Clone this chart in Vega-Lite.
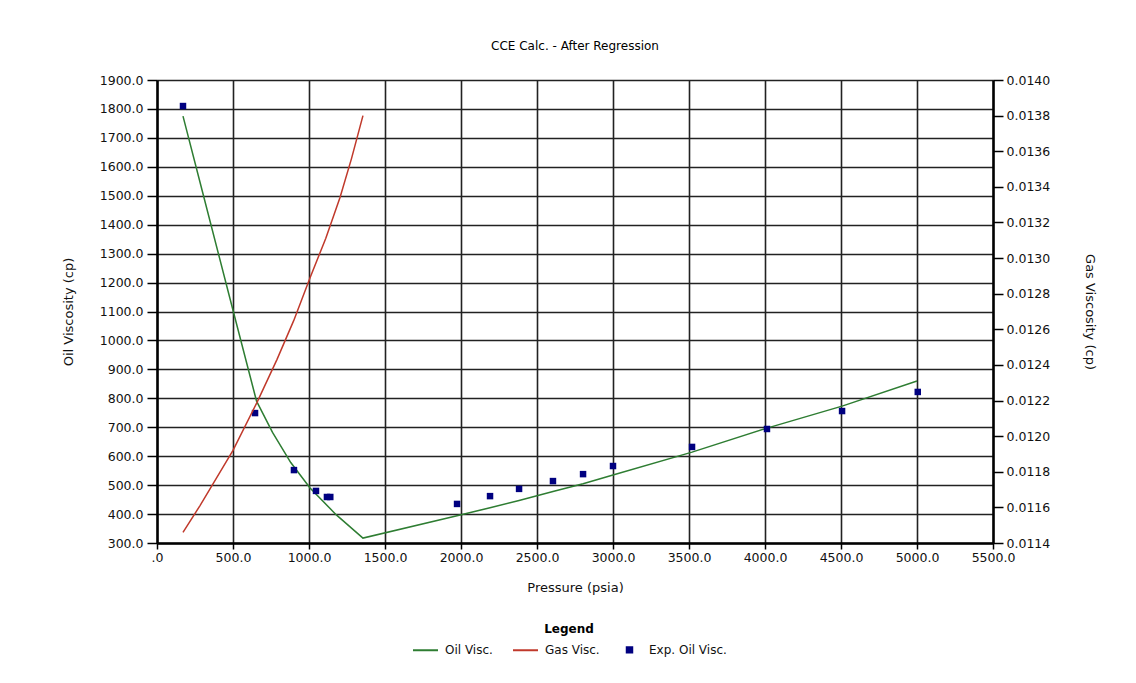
{
  "$schema": "https://vega.github.io/schema/vega-lite/v6.json",
  "width": 836,
  "height": 463,
  "autosize": {"type": "none"},
  "padding": {"left": 157, "top": 80, "right": 143, "bottom": 140},
  "background": "white",
  "title": {"text": "CCE Calc. - After Regression", "fontSize": 12, "font": "DejaVu Sans", "fontWeight": "normal", "color": "#000", "offset": 21, "anchor": "middle"},
  "data": {"values": [
    {"s": "Oil Visc.", "p": 171, "v": 1775},
    {"s": "Oil Visc.", "p": 300, "v": 1512},
    {"s": "Oil Visc.", "p": 480, "v": 1145},
    {"s": "Oil Visc.", "p": 655, "v": 790},
    {"s": "Oil Visc.", "p": 760, "v": 682},
    {"s": "Oil Visc.", "p": 880, "v": 578},
    {"s": "Oil Visc.", "p": 1007, "v": 490},
    {"s": "Oil Visc.", "p": 1180, "v": 397},
    {"s": "Oil Visc.", "p": 1355, "v": 317},
    {"s": "Oil Visc.", "p": 1974, "v": 394},
    {"s": "Oil Visc.", "p": 2191, "v": 422},
    {"s": "Oil Visc.", "p": 2382, "v": 447},
    {"s": "Oil Visc.", "p": 2605, "v": 478},
    {"s": "Oil Visc.", "p": 2803, "v": 505},
    {"s": "Oil Visc.", "p": 3000, "v": 535},
    {"s": "Oil Visc.", "p": 3520, "v": 614},
    {"s": "Oil Visc.", "p": 4013, "v": 697},
    {"s": "Oil Visc.", "p": 4507, "v": 773},
    {"s": "Oil Visc.", "p": 5000, "v": 860},
    {"s": "Gas Visc.", "p": 171, "g": 0.01146},
    {"s": "Gas Visc.", "p": 283, "g": 0.01161},
    {"s": "Gas Visc.", "p": 500, "g": 0.01192},
    {"s": "Gas Visc.", "p": 658, "g": 0.01219},
    {"s": "Gas Visc.", "p": 789, "g": 0.01243},
    {"s": "Gas Visc.", "p": 900, "g": 0.01265},
    {"s": "Gas Visc.", "p": 1007, "g": 0.01289},
    {"s": "Gas Visc.", "p": 1110, "g": 0.01311},
    {"s": "Gas Visc.", "p": 1204, "g": 0.01334},
    {"s": "Gas Visc.", "p": 1280, "g": 0.01356},
    {"s": "Gas Visc.", "p": 1355, "g": 0.01380},
    {"s": "Exp. Oil Visc.", "p": 171, "v": 1810},
    {"s": "Exp. Oil Visc.", "p": 645, "v": 749},
    {"s": "Exp. Oil Visc.", "p": 901, "v": 552},
    {"s": "Exp. Oil Visc.", "p": 1046, "v": 480},
    {"s": "Exp. Oil Visc.", "p": 1118, "v": 459},
    {"s": "Exp. Oil Visc.", "p": 1140, "v": 459},
    {"s": "Exp. Oil Visc.", "p": 1974, "v": 435},
    {"s": "Exp. Oil Visc.", "p": 2191, "v": 462},
    {"s": "Exp. Oil Visc.", "p": 2382, "v": 487},
    {"s": "Exp. Oil Visc.", "p": 2605, "v": 514},
    {"s": "Exp. Oil Visc.", "p": 2803, "v": 538},
    {"s": "Exp. Oil Visc.", "p": 3000, "v": 566},
    {"s": "Exp. Oil Visc.", "p": 3520, "v": 632},
    {"s": "Exp. Oil Visc.", "p": 4013, "v": 694},
    {"s": "Exp. Oil Visc.", "p": 4507, "v": 756},
    {"s": "Exp. Oil Visc.", "p": 5005, "v": 822}
  ]},
  "encoding": {
    "x": {
      "field": "p", "type": "quantitative",
      "scale": {"domain": [0, 5500], "nice": false, "zero": false},
      "axis": {
        "title": "Pressure (psia)",
        "values": [0, 500, 1000, 1500, 2000, 2500, 3000, 3500, 4000, 4500, 5000, 5500],
        "labelExpr": "datum.value === 0 ? '.0' : format(datum.value, '.1f')",
        "labelFlush": false, "labelOverlap": false,
        "tickSize": 6, "labelPadding": 2, "titlePadding": 18, "grid": true
      }
    },
    "color": {
      "field": "s", "type": "nominal",
      "scale": {"domain": ["Oil Visc.", "Gas Visc.", "Exp. Oil Visc."], "range": ["#2e7d32", "#c0392b", "#000080"]},
      "legend": {
        "title": "Legend",
        "orient": "none", "legendX": 255, "legendY": 544,
        "direction": "horizontal",
        "titleAnchor": "middle", "titleFontWeight": "bold", "titleFontSize": 12, "titleFont": "DejaVu Sans", "titleColor": "#000",
        "labelFont": "DejaVu Sans", "labelFontSize": 12, "labelColor": "#111",
        "symbolSize": 625, "symbolStrokeWidth": 2, "labelOffset": 6, "columnPadding": 16, "titlePadding": 0,
        "encode": {"symbols": {"update": {
          "shape": {"signal": "datum.value === 'Exp. Oil Visc.' ? 'square' : 'stroke'"},
          "size": {"signal": "datum.value === 'Exp. Oil Visc.' ? 30 : 625"},
          "fill": {"signal": "datum.value === 'Exp. Oil Visc.' ? '#000080' : 'transparent'"},
          "stroke": {"signal": "datum.value === 'Oil Visc.' ? '#1f6b1f' : datum.value === 'Gas Visc.' ? '#b22222' : '#000080'"},
          "strokeWidth": {"value": 2}
        }}}
      }
    }
  },
  "layer": [
    {
      "encoding": {
        "y": {
          "field": "v", "type": "quantitative",
          "scale": {"domain": [300, 1900], "nice": false, "zero": false},
          "axis": {
            "title": "Oil Viscosity (cp)",
            "values": [300, 400, 500, 600, 700, 800, 900, 1000, 1100, 1200, 1300, 1400, 1500, 1600, 1700, 1800, 1900],
            "format": ".1f", "tickSize": 10, "labelPadding": 4, "titlePadding": 24, "grid": true, "labelOverlap": false
          }
        }
      },
      "layer": [
        {
          "transform": [{"filter": "datum.s === 'Oil Visc.'"}],
          "mark": {"type": "line", "strokeWidth": 1.5}
        },
        {
          "transform": [{"filter": "datum.s === 'Exp. Oil Visc.'"}],
          "mark": {"type": "point", "shape": "square", "filled": true, "size": 42, "opacity": 1}
        }
      ]
    },
    {
      "transform": [{"filter": "datum.s === 'Gas Visc.'"}],
      "mark": {"type": "line", "strokeWidth": 1.5},
      "encoding": {
        "y": {
          "field": "g", "type": "quantitative",
          "scale": {"domain": [0.0114, 0.014], "nice": false, "zero": false},
          "axis": {
            "orient": "right",
            "title": "Gas Viscosity (cp)",
            "values": [0.0114, 0.0116, 0.0118, 0.012, 0.0122, 0.0124, 0.0126, 0.0128, 0.013, 0.0132, 0.0134, 0.0136, 0.0138, 0.014],
            "format": ".4f", "tickSize": 10, "labelPadding": 3, "titlePadding": 33, "grid": false, "labelOverlap": false
          }
        }
      }
    }
  ],
  "resolve": {"scale": {"y": "independent"}},
  "config": {
    "font": "DejaVu Sans",
    "view": {"stroke": null},
    "axis": {
      "labelFont": "DejaVu Sans", "labelFontSize": 12.5, "labelColor": "#111",
      "titleFont": "DejaVu Sans", "titleFontSize": 13, "titleFontWeight": "normal", "titleColor": "#111",
      "domainColor": "#000", "domainWidth": 2.5,
      "tickColor": "#000", "tickWidth": 1.5,
      "gridColor": "#222", "gridWidth": 1.6, "gridOpacity": 1,
      "labelBound": false
    }
  }
}
